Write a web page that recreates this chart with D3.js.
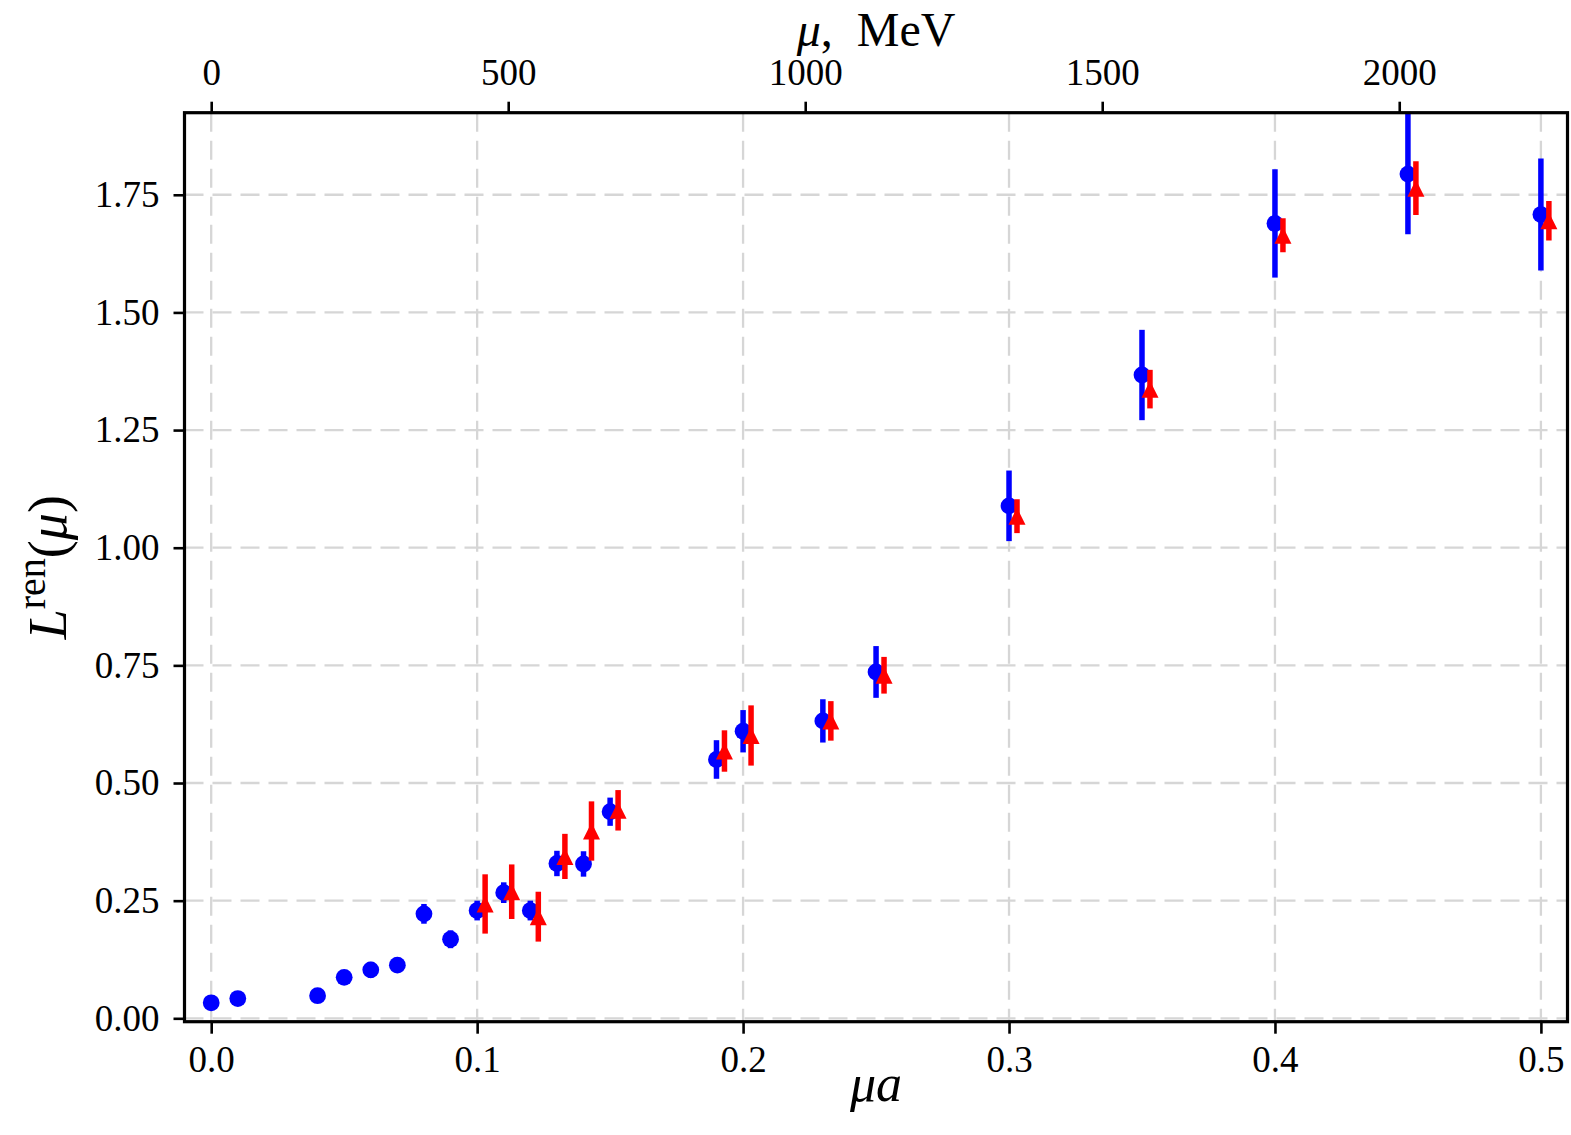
<!DOCTYPE html>
<html>
<head>
<meta charset="utf-8">
<script src="https://cdn.jsdelivr.net/npm/d3@7"></script>
<style>
  body { margin: 0; background: #fff; }
  svg { display: block; font-family: 'Liberation Serif', 'DejaVu Serif', serif; }
  .tick text { font-size: 37px; fill: #000; }
</style>
</head>
<body>
<script>
// blue circles
const muA = [0.00, 0.01, 0.04, 0.05, 0.06, 0.07, 0.08, 0.09, 0.10, 0.11, 0.12, 0.13, 0.14, 0.15,
             0.19, 0.20, 0.23, 0.25, 0.30, 0.35, 0.40, 0.45, 0.50];
const blueL = [0.033, 0.042, 0.048, 0.087, 0.103, 0.113, 0.222, 0.168, 0.229, 0.267, 0.229, 0.329, 0.328, 0.439,
               0.550, 0.610, 0.632, 0.736, 1.089, 1.367, 1.689, 1.794, 1.708];
const blueErr = [0.010, 0.010, 0.013, 0.012, 0.017, 0.015, 0.021, 0.019, 0.021, 0.022, 0.021, 0.027, 0.027, 0.030,
                 0.041, 0.045, 0.046, 0.055, 0.075, 0.096, 0.115, 0.128, 0.119];
// red triangles
const redMuA = [0.10, 0.11, 0.12, 0.13, 0.14, 0.15, 0.19, 0.20, 0.23, 0.25, 0.30, 0.35, 0.40, 0.45, 0.50];
const redL = [0.243, 0.269, 0.216, 0.344, 0.398, 0.442, 0.568, 0.601, 0.632, 0.729, 1.067, 1.337, 1.664, 1.764, 1.695];
const redErr = [0.063, 0.058, 0.053, 0.048, 0.063, 0.043, 0.044, 0.064, 0.042, 0.039, 0.036, 0.041, 0.036, 0.057, 0.042];

const xTicks = [0.0, 0.1, 0.2, 0.3, 0.4, 0.5];
const yTicks = [0.00, 0.25, 0.50, 0.75, 1.00, 1.25, 1.50, 1.75];
const mevTicks = [0, 500, 1000, 1500, 2000];
const invA = 4477; // MeV per unit of mu*a

document.addEventListener('DOMContentLoaded', () => {
  const w = 1571;
  const h = 1135;
  const left = 184.5, right = 1567.5, top = 112.7, bottom = 1021.7;
  const redShift = 0.003;

  const xScale = d3.scaleLinear().domain([-0.01004, 0.5100]).range([left, right]);
  const yScale = d3.scaleLinear().domain([-0.0072, 1.9244]).range([bottom, top]);
  const mevScale = d3.scaleLinear().domain(xScale.domain().map(d => d * invA)).range([left, right]);

  const svg = d3.select('body').append('svg').attr('width', w).attr('height', h);

  svg.append('defs').append('clipPath').attr('id', 'plot-clip')
     .append('rect').attr('x', left).attr('y', top).attr('width', right - left).attr('height', bottom - top);

  // grid
  const grid = svg.append('g').attr('stroke', '#d6d6d6').attr('stroke-width', 2.3).attr('stroke-dasharray', '19,9');
  grid.selectAll('line.gx').data(xTicks).enter().append('line')
      .attr('x1', d => xScale(d)).attr('x2', d => xScale(d)).attr('y1', top).attr('y2', bottom);
  grid.selectAll('line.gy').data(yTicks).enter().append('line')
      .attr('y1', d => yScale(d)).attr('y2', d => yScale(d)).attr('x1', left).attr('x2', right);

  const plot = svg.append('g').attr('clip-path', 'url(#plot-clip)');

  // blue series
  const blue = muA.map((x, i) => ({ x: x, y: blueL[i], e: blueErr[i] }));
  plot.selectAll('line.be').data(blue).enter().append('line')
      .attr('x1', d => xScale(d.x)).attr('x2', d => xScale(d.x))
      .attr('y1', d => yScale(d.y - d.e)).attr('y2', d => yScale(d.y + d.e))
      .attr('stroke', '#0000ff').attr('stroke-width', 5.5);
  plot.selectAll('circle').data(blue).enter().append('circle')
      .attr('cx', d => xScale(d.x)).attr('cy', d => yScale(d.y)).attr('r', 8.4)
      .attr('fill', '#0000ff');

  // red series
  const red = redMuA.map((x, i) => ({ x: x + redShift, y: redL[i], e: redErr[i] }));
  plot.selectAll('line.re').data(red).enter().append('line')
      .attr('x1', d => xScale(d.x)).attr('x2', d => xScale(d.x))
      .attr('y1', d => yScale(d.y - d.e)).attr('y2', d => yScale(d.y + d.e))
      .attr('stroke', '#ff0000').attr('stroke-width', 5.5);
  plot.selectAll('path.tri').data(red).enter().append('path')
      .attr('d', 'M0,-8.5L8.5,8.5L-8.5,8.5Z')
      .attr('transform', d => 'translate(' + xScale(d.x) + ',' + yScale(d.y) + ')')
      .attr('fill', '#ff0000');

  // axes
  const xAxis = d3.axisBottom(xScale).tickValues(xTicks).tickFormat(d3.format('.1f')).tickSize(12).tickPadding(12);
  const yAxis = d3.axisLeft(yScale).tickValues(yTicks).tickFormat(d3.format('.2f')).tickSize(11).tickPadding(14);
  const topAxis = d3.axisTop(mevScale).tickValues(mevTicks).tickFormat(d3.format('d')).tickSize(11).tickPadding(17);

  const gx = svg.append('g').attr('transform', 'translate(0,' + bottom + ')').call(xAxis);
  const gy = svg.append('g').attr('transform', 'translate(' + left + ',0)').call(yAxis);
  const gt = svg.append('g').attr('transform', 'translate(0,' + top + ')').call(topAxis);
  [gx, gy, gt].forEach(g => {
    g.select('.domain').remove();
    g.selectAll('.tick line').attr('stroke', '#000').attr('stroke-width', 2.6);
    g.attr('font-family', null).attr('font-size', null);
  });

  // frame
  svg.append('rect').attr('x', left).attr('y', top).attr('width', right - left).attr('height', bottom - top)
     .attr('fill', 'none').attr('stroke', '#000').attr('stroke-width', 3.2);

  // labels
  const xl = svg.append('text').attr('x', (left + right) / 2).attr('y', 1101)
     .attr('text-anchor', 'middle').style('font-size', '52px').style('font-style', 'italic');
  xl.text('μa');

  const tl = svg.append('text').attr('x', (left + right) / 2).attr('y', 46)
     .attr('text-anchor', 'middle').style('font-size', '48px');
  tl.append('tspan').style('font-style', 'italic').text('μ');
  tl.append('tspan').text(',');
  tl.append('tspan').attr('dx', 24).text('MeV');

  const yl = svg.append('text').attr('transform', 'translate(66,' + ((top + bottom) / 2) + ')rotate(-90)')
     .attr('text-anchor', 'middle').style('font-size', '54px');
  yl.append('tspan').style('font-style', 'italic').text('L');
  yl.append('tspan').attr('dy', -21).style('font-size', '40px').text('ren');
  yl.append('tspan').attr('dy', 21).text('(');
  yl.append('tspan').style('font-style', 'italic').text('μ');
  yl.append('tspan').text(')');
});
</script>
</body>
</html>
